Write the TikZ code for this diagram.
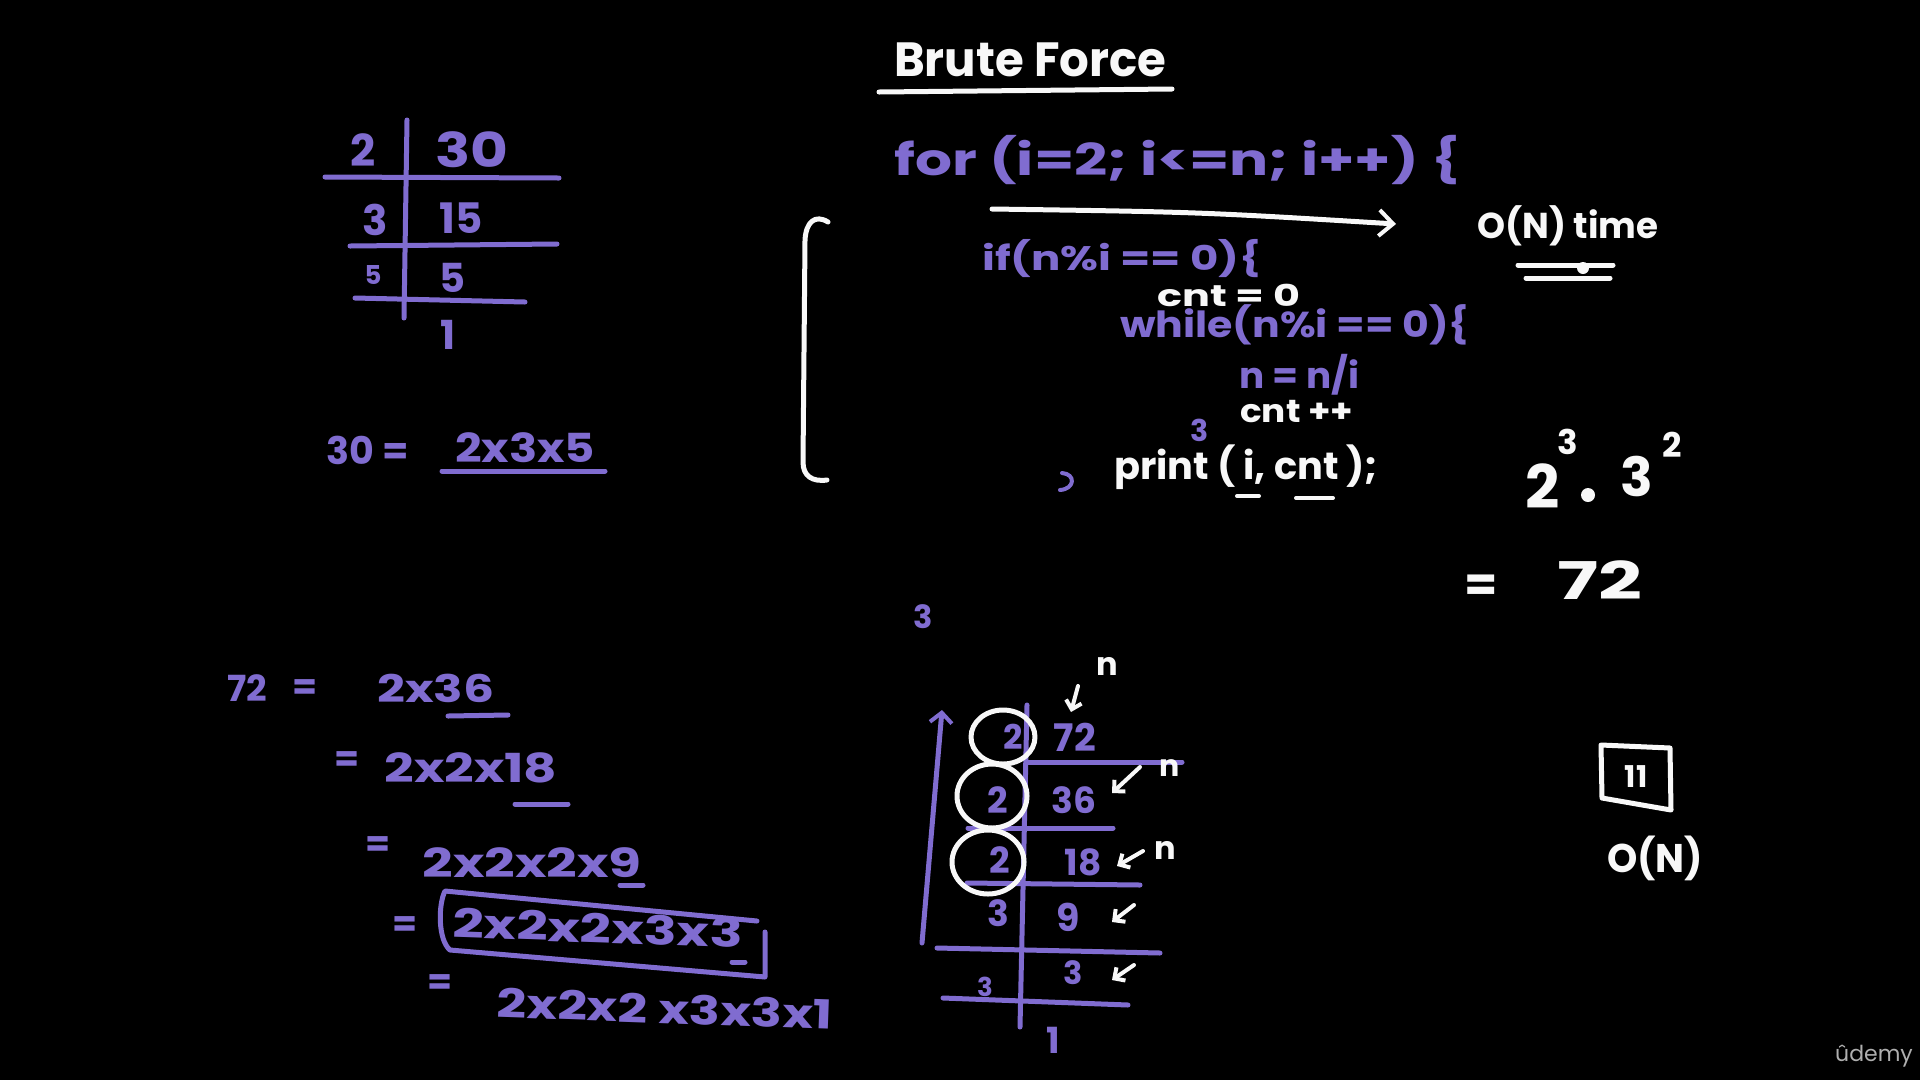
\documentclass[tikz,border=0pt]{standalone}
\usepackage{fontspec}
\setmainfont{Poppins}
\usetikzlibrary{arrows.meta}
\definecolor{pen}{RGB}{128,108,208}
\definecolor{chalk}{RGB}{248,248,248}
\definecolor{logo}{RGB}{175,175,175}
\newcommand{\penfs}[1]{\fontsize{#1}{#1}\selectfont\bfseries}
\newcommand{\fitw}[2]{\resizebox{#1pt}{\height}{#2}}
\tikzset{
  stroke/.style={line width=5pt, line cap=round, line join=round},
  pu/.style={stroke, draw=pen},
  wh/.style={stroke, draw=chalk},
  ptx/.style={text=pen, inner sep=0pt, font=\penfs{#1}},
  wtx/.style={text=chalk, inner sep=0pt, font=\penfs{#1}},
  tip/.style={-{Straight Barb[length=8pt,width=16pt,line width=4pt]}},
}
\begin{document}
\begin{tikzpicture}[x=1pt,y=-1pt]
\fill[black] (0,0) rectangle (1920,1080);
\useasboundingbox (0,0) rectangle (1920,1080);

% ---------- title ----------
\node[wtx=48, anchor=west] (title) at (894,60) {\fitw{272}{Brute Force}};
\draw[wh] (879,92) -- (1172,89);

% ---------- code ----------
\node[ptx=44, anchor=west] (for) at (894,160) {\fitw{566}{for (i=2; i<=n; i++) \{}};
\coordinate (arrS) at (992,209);
\coordinate (arrE) at (1396,224);
\draw[wh, -{Straight Barb[length=14pt,width=26pt,line width=4pt]}] (arrS) .. controls (1200,212) .. (arrE);
\node[wtx=36, anchor=west] (ontime) at (1477,226) {\fitw{181}{O(N) time}};
\draw[wh] (1518,265) -- (1613,265);
\draw[wh] (1526,278) -- (1610,278);
\fill[chalk] (1583,268) circle (6);

\draw[wh] (828,222) .. controls (815,214) and (806,222) .. (805,240) -- (803,462) .. controls (803,476) and (812,482) .. (827,480);

\node[ptx=34, anchor=west] (ifl) at (982,259) {\fitw{279}{if(n\%i == 0)\{}};
\node[wtx=30, anchor=west] (cnt0) at (1157,295) {\fitw{143}{cnt = 0}};
\node[ptx=36, anchor=west] (whl) at (1120,325) {\fitw{349}{while(n\%i == 0)\{}};
\node[ptx=36, anchor=west] (ndiv) at (1239,375) {\fitw{120}{n = n/i}};
\node[wtx=32, anchor=west] (cntpp) at (1240,412) {\fitw{113}{cnt ++}};
\node[ptx=30] (three1) at (1200,430) {3};
\draw[pu, line width=4pt] (1062,473) .. controls (1076,474) and (1075,489) .. (1060,490);
\node[wtx=38, anchor=west] (prt) at (1114,467) {\fitw{264}{print ( i, cnt );}};
\draw[wh, line width=4pt] (1237,496) -- (1259,496);
\draw[wh, line width=4pt] (1296,498) -- (1333,498);

% ---------- 2^3 . 3^2 = 72 ----------
\node[wtx=60] (b2) at (1543,486) {2};
\node[wtx=34] (e3) at (1568,442) {3};
\fill[chalk] (1588,495) circle (7);
\node[wtx=54] (b3) at (1637,476) {3};
\node[wtx=34] (e2) at (1672,445) {2};
\node[wtx=48] (eq72) at (1481,588) {=};
\node[wtx=52] (n72) at (1600,580) {\fitw{85}{72}};

% ---------- left table ----------
\draw[pu] (407,120) -- (404,318);
\draw[pu] (325,177) -- (559,178);
\draw[pu] (350,246) -- (557,244);
\draw[pu] (355,298) -- (525,302);
\node[ptx=44] (t2) at (363,150) {2};
\node[ptx=48] (t30) at (472,150) {\fitw{73}{30}};
\node[ptx=42] (t3) at (375,220) {3};
\node[ptx=42] (t15) at (461,218) {15};
\node[ptx=26] (t5a) at (373,275) {5};
\node[ptx=40] (t5b) at (452,278) {5};
\node[ptx=40] (t1) at (448,335) {1};
\node[ptx=38] (e30) at (368,450) {30 =};
\node[ptx=40] (f30) at (525,448) {\fitw{140}{2x3x5}};
\draw[pu] (442,471) -- (605,471);

% ---------- bottom-left equations ----------
\node[ptx=36] (s72) at (247,688) {72};
\node[ptx=36] (q1) at (305,690) {=};
\node[ptx=38] (r1) at (436,688) {\fitw{117}{2x36}};
\draw[pu] (448,716) -- (508,715);
\node[ptx=36] (q2) at (347,762) {=};
\node[ptx=40] (r2) at (471,768) {\fitw{173}{2x2x18}};
\draw[pu] (515,804) -- (568,804);
\node[ptx=36] (q3) at (378,847) {=};
\node[ptx=40] (r3) at (532,863) {\fitw{219}{2x2x2x9}};
\draw[pu] (620,885) -- (643,885);
\node[ptx=36] (q4) at (405,927) {=};
\draw[pu] (757,921) -- (445,891) .. controls (438,905) and (438,940) .. (450,950) -- (765,977) -- (765,932);
\node[ptx=40, rotate=-2] (r4) at (598,928) {\fitw{290}{2x2x2x3x3}};
\draw[pu] (732,962) -- (745,962);
\node[ptx=36] (q5) at (440,985) {=};
\node[ptx=40, rotate=-2, anchor=west] (r5) at (497,1003) {\fitw{336}{2x2x2 x3x3x1}};

% ---------- bottom-middle table ----------
\node[ptx=32] (m3) at (923,617) {3};
\draw[pu, -{Straight Barb[length=10pt,width=22pt,line width=4pt]}] (922,943) -- (942,710);
\draw[pu] (1027,705) -- (1020,1027);
\node[ptx=34] (c1) at (1013,737) {2};
\node[ptx=38] (v72) at (1075,737) {72};
\draw[pu] (1028,762) -- (1182,762);
\node[ptx=36] (c2) at (998,800) {2};
\node[ptx=36] (v36) at (1074,800) {36};
\draw[pu] (968,828) -- (1113,828);
\node[ptx=36] (c3) at (1000,860) {2};
\node[ptx=36] (v18) at (1083,862) {18};
\draw[pu] (967,883) -- (1140,885);
\node[ptx=36] (c4) at (998,913) {3};
\node[ptx=38] (v9) at (1068,917) {9};
\draw[pu] (937,948) -- (1160,953);
\node[ptx=32] (v3) at (1073,973) {3};
\node[ptx=26] (c5) at (985,987) {3};
\draw[pu] (943,998) -- (1128,1005);
\node[ptx=36] (v1) at (1053,1040) {1};

\draw[wh] (1003,737) ellipse (32 and 27);
\draw[wh] (992,796) ellipse (35 and 32);
\draw[wh] (988,862) ellipse (36 and 32);

\node[wtx=32] (n1) at (1107,666) {n};
\draw[wh, line width=4pt, tip] (1078,686) -- (1071,712);
\node[wtx=30] (n2) at (1170,768) {n};
\draw[wh, line width=4pt, tip] (1140,767) -- (1112,793);
\node[wtx=32] (n3) at (1165,850) {n};
\draw[wh, line width=4pt, tip] (1143,851) -- (1117,866);
\draw[wh, line width=4pt, tip] (1134,905) -- (1112,922);
\draw[wh, line width=4pt, tip] (1134,965) -- (1112,980);

% ---------- right box ----------
\draw[wh] (1601,745) -- (1670,748) -- (1671,810) -- (1602,798) -- cycle;
\node[wtx=30] (eleven) at (1636,777) {11};
\node[wtx=40] (oN) at (1655,858) {\fitw{96}{O(N)}};

% ---------- watermark ----------
\node[text=logo, inner sep=0pt, font=\fontsize{22}{22}\selectfont] (udemy) at (1874,1056) {ûdemy};
\end{tikzpicture}
\end{document}
